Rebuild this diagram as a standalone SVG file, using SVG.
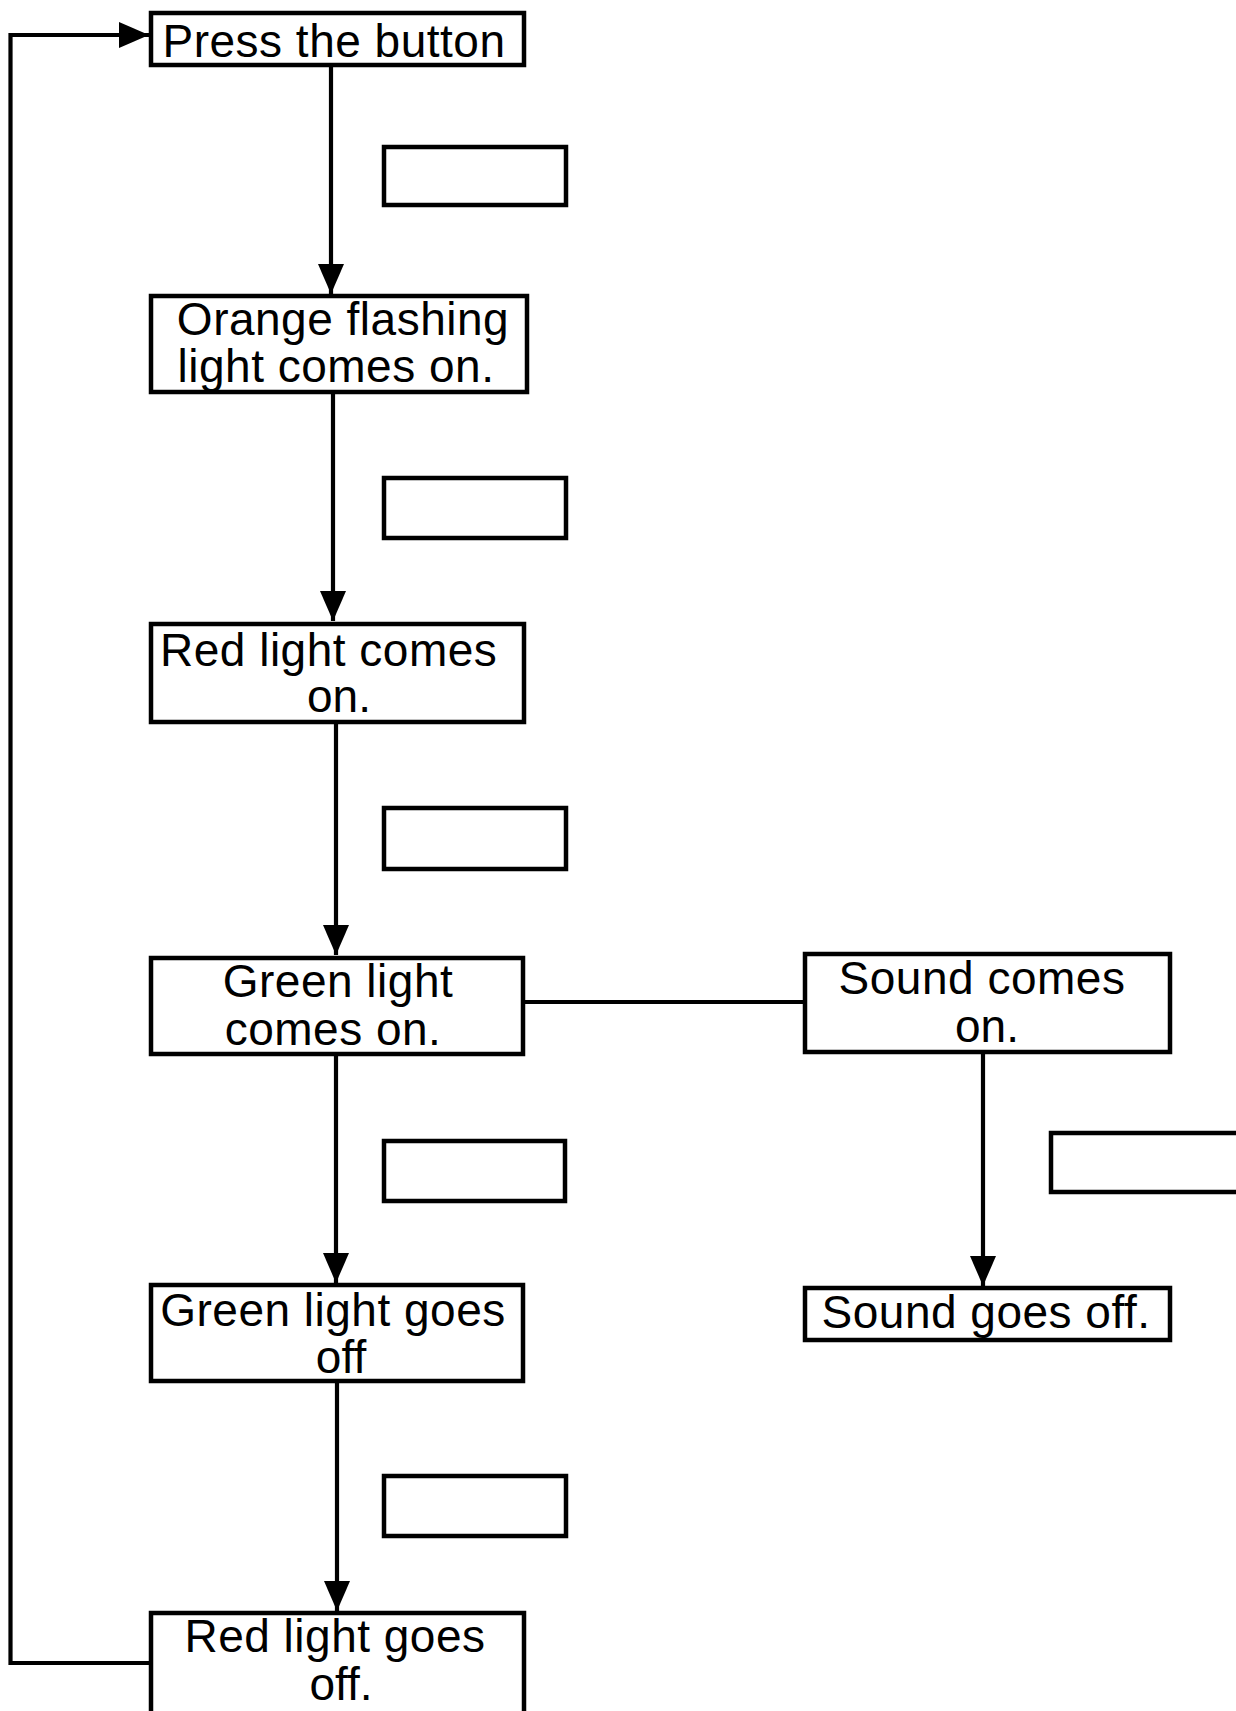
<svg xmlns="http://www.w3.org/2000/svg" width="1236" height="1711" viewBox="0 0 1236 1711">
<defs>
<style>
.box{fill:#fff;stroke:#000;stroke-width:4.5}
.blank{fill:#fff;stroke:#000;stroke-width:4.5}
.lbl{font-family:"Liberation Sans",Arial,sans-serif;font-size:46px;fill:#000;text-anchor:middle}
.con{fill:none;stroke:#000;stroke-width:4.2}
</style>
<marker id="ah" viewBox="0 0 30 26" refX="30" refY="13" markerWidth="30" markerHeight="26" markerUnits="userSpaceOnUse" orient="auto">
<path d="M0,0 L30,13 L0,26 Z" fill="#000"/>
</marker>
</defs>
<rect width="1236" height="1711" fill="#fff"/>
<g id="connectors">
<line class="con" x1="331" y1="66" x2="331" y2="294" marker-end="url(#ah)"/>
<line class="con" x1="333" y1="393" x2="333" y2="621" marker-end="url(#ah)"/>
<line class="con" x1="336" y1="723" x2="336" y2="955" marker-end="url(#ah)"/>
<line class="con" x1="336" y1="1055" x2="336" y2="1283" marker-end="url(#ah)"/>
<line class="con" x1="337" y1="1382" x2="337" y2="1611" marker-end="url(#ah)"/>
<line class="con" x1="524" y1="1002" x2="805" y2="1002"/>
<line class="con" x1="983" y1="1053" x2="983" y2="1286" marker-end="url(#ah)"/>
<path class="con" d="M150,1663 H10.5 V35 H149" stroke-width="4.5" marker-end="url(#ah)"/>
</g>
<g id="n-press"><rect class="box" x="151" y="13" width="373" height="52"/><text class="lbl" x="334" y="57" letter-spacing="0.5">Press the button</text></g>
<g id="n-orange"><rect class="box" x="151" y="296" width="376" height="96"/><text class="lbl" x="343" y="335" letter-spacing="0.5">Orange flashing</text><text class="lbl" x="336" y="382" letter-spacing="0.5">light comes on.</text></g>
<g id="n-red"><rect class="box" x="151" y="624" width="373" height="98"/><text class="lbl" x="160" y="666" style="text-anchor:start" letter-spacing="0.5">Red light comes </text><text class="lbl" x="339" y="712">on.</text></g>
<g id="n-green"><rect class="box" x="151" y="958" width="372" height="96"/><text class="lbl" x="338" y="997" letter-spacing="0.5">Green light</text><text class="lbl" x="333" y="1045" letter-spacing="0.5">comes on.</text></g>
<g id="n-sound"><rect class="box" x="805" y="954" width="365" height="98"/><text class="lbl" x="982" y="994" letter-spacing="0.5">Sound comes</text><text class="lbl" x="987" y="1042">on.</text></g>
<g id="n-greenoff"><rect class="box" x="151" y="1285" width="372" height="96"/><text class="lbl" x="333" y="1326" letter-spacing="0.5">Green light goes</text><text class="lbl" x="341" y="1373">off</text></g>
<g id="n-soundoff"><rect class="box" x="805" y="1288" width="365" height="52"/><text class="lbl" x="986" y="1328" letter-spacing="0.5">Sound goes off.</text></g>
<g id="n-redoff"><rect class="box" x="151" y="1613" width="373" height="110"/><text class="lbl" x="335" y="1652" letter-spacing="0.5">Red light goes</text><text class="lbl" x="341" y="1700">off.</text></g>
<g id="blank1"><rect class="blank" x="384" y="147" width="182" height="58"/></g>
<g id="blank2"><rect class="blank" x="384" y="478" width="182" height="60"/></g>
<g id="blank3"><rect class="blank" x="384" y="808" width="182" height="61"/></g>
<g id="blank4"><rect class="blank" x="384" y="1141" width="181" height="60"/></g>
<g id="blank5"><rect class="blank" x="384" y="1476" width="182" height="60"/></g>
<g id="blank6"><rect class="blank" x="1051" y="1133" width="200" height="59"/></g>
</svg>
